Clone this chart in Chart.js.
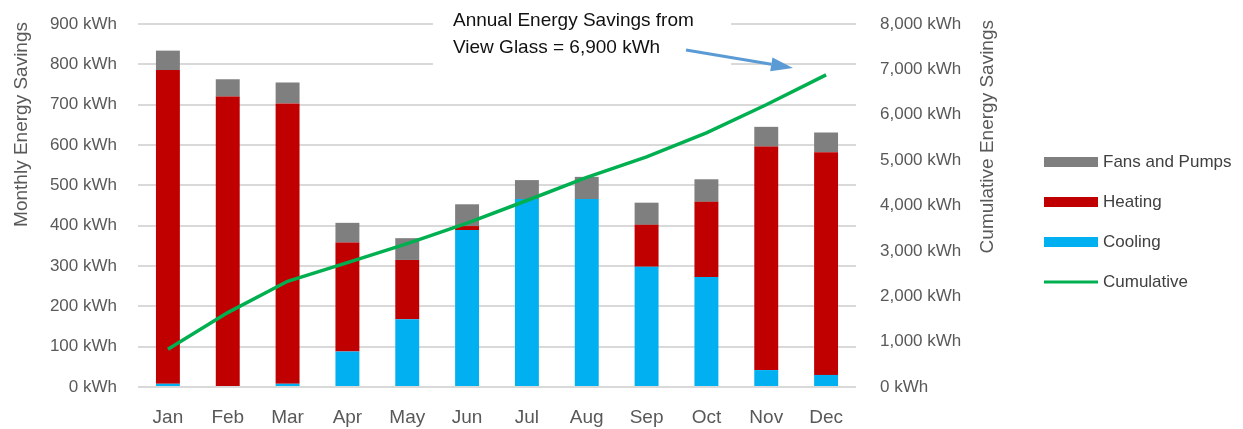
<!DOCTYPE html>
<html>
<head>
<meta charset="utf-8">
<script src="https://cdn.jsdelivr.net/npm/chart.js@4"></script>
<style>
  html, body { margin: 0; padding: 0; background: #fff; }
  #wrap { width: 1243px; height: 429px; }
</style>
</head>
<body>
<div id="wrap"><canvas id="chart" width="1243" height="429"></canvas></div>
<script>
const months = ['Jan', 'Feb', 'Mar', 'Apr', 'May', 'Jun', 'Jul', 'Aug', 'Sep', 'Oct', 'Nov', 'Dec'];
const cooling = [8, 0, 8, 88, 168, 389, 466, 466, 298, 273, 42, 30];
const heating = [778, 720, 695, 270, 147, 10, 0, 0, 104, 186, 554, 552];
const fansPumps = [48, 43, 52, 49, 54, 54, 47, 55, 55, 56, 49, 49];
const cumulative = [830, 1640, 2330, 2740, 3160, 3610, 4110, 4620, 5070, 5600, 6220, 6880];

const monthlyMax = 900;
const monthlyStep = 100;
const cumulativeMax = 8000;
const cumulativeStep = 1000;

const calloutLines = ['Annual Energy Savings from', 'View Glass = 6,900 kWh'];

const FONT = '"Liberation Sans", Arial, sans-serif';
const TEXT = '#595959';

const fmt = v => v.toLocaleString('en-US') + ' kWh';

// fixed axis width; drop the label padding so the plot top is set by layout padding
const pinAxis = w => s => {
  s.width = w;
  s.paddingTop = 0;
  s.paddingBottom = 0;
};

// axis titles, legend and the callout are drawn by hand
const extras = {
  id: 'extras',
  beforeDatasetsDraw(chart) {
    const ctx = chart.ctx;
    ctx.save();
    // white box behind callout text breaks the gridlines
    ctx.fillStyle = '#fff';
    ctx.fillRect(433, 2, 298, 70);
    ctx.restore();
  },
  afterDraw(chart) {
    const ctx = chart.ctx;
    ctx.save();

    // callout text
    ctx.fillStyle = '#111';
    ctx.font = '19px ' + FONT;
    ctx.textAlign = 'left';
    ctx.textBaseline = 'middle';
    ctx.fillText(calloutLines[0], 453, 21);
    ctx.fillText(calloutLines[1], 453, 48);

    // arrow
    const x0 = 686, y0 = 50, x1 = 793, y1 = 68;
    const ang = Math.atan2(y1 - y0, x1 - x0);
    const headLen = 22, headW = 7;
    ctx.strokeStyle = '#5b9bd5';
    ctx.fillStyle = '#5b9bd5';
    ctx.lineWidth = 3;
    ctx.beginPath();
    ctx.moveTo(x0, y0);
    ctx.lineTo(x1 - headLen * Math.cos(ang), y1 - headLen * Math.sin(ang));
    ctx.stroke();
    ctx.beginPath();
    ctx.moveTo(x1, y1);
    ctx.lineTo(x1 - headLen * Math.cos(ang) + headW * Math.sin(ang), y1 - headLen * Math.sin(ang) - headW * Math.cos(ang));
    ctx.lineTo(x1 - headLen * Math.cos(ang) - headW * Math.sin(ang), y1 - headLen * Math.sin(ang) + headW * Math.cos(ang));
    ctx.closePath();
    ctx.fill();

    // axis titles, both read bottom to top
    ctx.fillStyle = TEXT;
    ctx.font = '19px ' + FONT;
    ctx.textAlign = 'right';
    ctx.textBaseline = 'middle';
    ctx.save();
    ctx.translate(22, 22);
    ctx.rotate(-Math.PI / 2);
    ctx.fillText('Monthly Energy Savings', 0, 0);
    ctx.restore();
    ctx.save();
    ctx.translate(988, 20);
    ctx.rotate(-Math.PI / 2);
    ctx.fillText('Cumulative Energy Savings', 0, 0);
    ctx.restore();

    // legend
    const order = [2, 1, 0, 3];
    ctx.font = '17px ' + FONT;
    ctx.textAlign = 'left';
    order.forEach((di, i) => {
      const ds = chart.data.datasets[di];
      const y = 162 + i * 40;
      if (ds.type === 'line') {
        ctx.fillStyle = ds.borderColor;
        ctx.fillRect(1044, y - 1.5, 54, 3);
      } else {
        ctx.fillStyle = ds.backgroundColor;
        ctx.fillRect(1044, y - 5, 54, 10);
      }
      ctx.fillStyle = '#404040';
      ctx.fillText(ds.label, 1103, y);
    });

    ctx.restore();
  }
};

new Chart(document.getElementById('chart'), {
  type: 'bar',
  data: {
    labels: months,
    datasets: [
      { label: 'Cooling', data: cooling, backgroundColor: '#00b0f0', stack: 's', yAxisID: 'y', order: 1 },
      { label: 'Heating', data: heating, backgroundColor: '#c00000', stack: 's', yAxisID: 'y', order: 1 },
      { label: 'Fans and Pumps', data: fansPumps, backgroundColor: '#7f7f7f', stack: 's', yAxisID: 'y', order: 1 },
      {
        type: 'line', label: 'Cumulative', data: cumulative, yAxisID: 'y1', order: 0,
        borderColor: '#00b050', backgroundColor: '#00b050', borderWidth: 3.5,
        pointRadius: 0, tension: 0, fill: false
      }
    ]
  },
  options: {
    responsive: false,
    animation: false,
    barPercentage: 0.4,
    categoryPercentage: 1,
    layout: { padding: { top: 24, right: 237, bottom: 0, left: 0 } },
    plugins: {
      legend: { display: false },
      tooltip: { enabled: false }
    },
    scales: {
      x: {
        grid: { display: false, drawTicks: false },
        border: { display: false },
        ticks: { color: TEXT, font: { family: FONT, size: 19 }, padding: 19 },
        afterFit: s => { s.height = 42; }
      },
      y: {
        position: 'left',
        stacked: true,
        min: 0,
        max: monthlyMax,
        grid: { color: '#d9d9d9', lineWidth: 2, drawTicks: false },
        border: { display: false },
        ticks: { stepSize: monthlyStep, color: TEXT, font: { family: FONT, size: 17 }, padding: 21, callback: fmt },
        afterFit: pinAxis(138)
      },
      y1: {
        position: 'right',
        min: 0,
        max: cumulativeMax,
        grid: { display: false, drawTicks: false },
        border: { display: false },
        ticks: { stepSize: cumulativeStep, color: TEXT, font: { family: FONT, size: 17 }, padding: 24, callback: fmt },
        afterFit: pinAxis(150)
      }
    }
  },
  plugins: [extras]
});
</script>
</body>
</html>
